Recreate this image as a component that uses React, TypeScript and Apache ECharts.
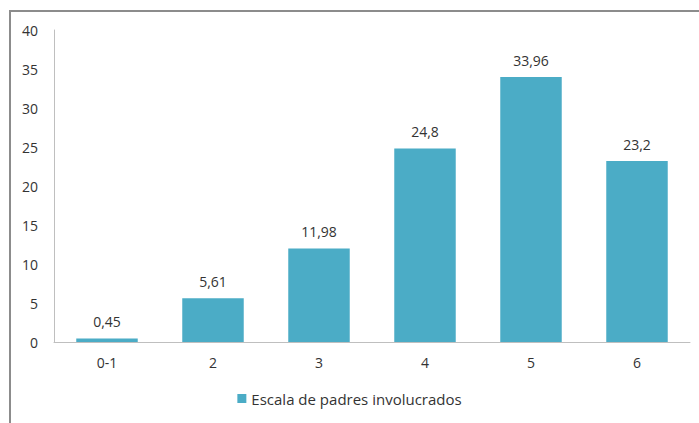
import React, { useEffect, useRef } from "react";
import * as echarts from "echarts";

const categories = ["0-1", "2", "3", "4", "5", "6"];
const values = [0.45, 5.61, 11.98, 24.8, 33.96, 23.2];
const seriesName = "Escala de padres involucrados";

export default function App() {
  const ref = useRef<HTMLDivElement>(null);
  useEffect(() => {
    if (!ref.current) return;
    const chart = echarts.init(ref.current, null, { renderer: "svg" });
    const font = "'Open Sans', sans-serif";
    chart.setOption({
      animation: false,
      backgroundColor: "#ffffff",
      textStyle: { fontFamily: font },
      graphic: [
        {
          type: "rect",
          shape: { x: 10, y: 11, width: 720, height: 450 },
          style: { fill: "none", stroke: "#8c8c8c", lineWidth: 2 },
          silent: true,
        },
      ],
      grid: { left: 54, right: 9, top: 30, bottom: 81, containLabel: false },
      legend: {
        show: true,
        bottom: 12,
        left: "center",
        icon: "rect",
        itemWidth: 9,
        itemHeight: 9,
        itemGap: 6,
        textStyle: { color: "#333333", fontSize: 15, fontFamily: font },
        data: [seriesName],
      },
      xAxis: {
        type: "category",
        data: categories,
        axisLine: { show: true, lineStyle: { color: "#bfbfbf", width: 1 } },
        axisTick: { show: false },
        axisLabel: { color: "#333333", fontSize: 14, margin: 13, fontFamily: font },
      },
      yAxis: {
        type: "value",
        min: 0,
        max: 40,
        interval: 5,
        axisLine: { show: true, lineStyle: { color: "#bfbfbf", width: 1 } },
        axisTick: { show: false },
        splitLine: { show: false },
        axisLabel: { color: "#333333", fontSize: 14, margin: 16, fontFamily: font },
      },
      series: [
        {
          name: seriesName,
          type: "bar",
          data: values,
          barWidth: "58%",
          itemStyle: { color: "#4bacc6" },
          label: {
            show: true,
            position: "top",
            distance: 10,
            color: "#333333",
            fontSize: 14,
            fontFamily: font,
            formatter: (p: any) => String(p.value).replace(".", ","),
          },
        },
      ],
    });
    return () => chart.dispose();
  }, []);
  return (
    <div
      ref={ref}
      style={{ position: "fixed", left: 0, top: 0, width: 699, height: 423 }}
    />
  );
}
